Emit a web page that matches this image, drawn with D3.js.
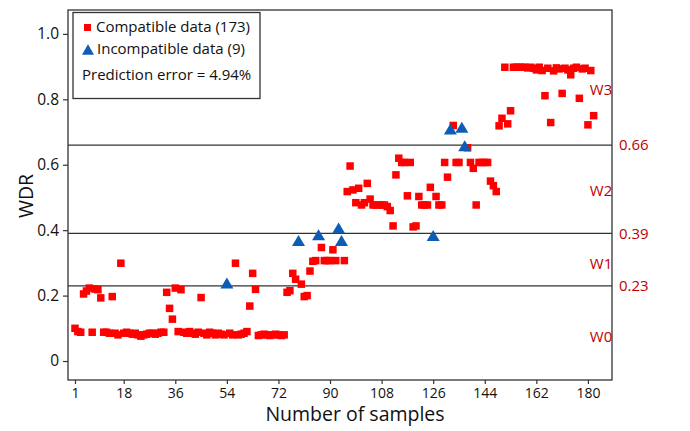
<!DOCTYPE html>
<html>
<head>
<meta charset="utf-8">
<script src="https://cdn.jsdelivr.net/npm/d3@7"></script>
<style>
  html, body { margin: 0; padding: 0; background: #fff; }
  svg { display: block; }
  text { font-family: "Open Sans", "Noto Sans", sans-serif; fill: #111; }
</style>
</head>
<body>
<svg id="chart" width="690" height="431"></svg>
<script>
// WDR value of each sample, in sample order (sample 1 first)
const wdrValues = [
  0.100, 0.090, 0.088, 0.205, 0.214, 0.223, 0.088, 0.220, 0.218, 0.193,
  0.088, 0.088, 0.085, 0.197, 0.085, 0.080, 0.299, 0.085, 0.088, 0.085,
  0.082, 0.085, 0.080, 0.076, 0.080, 0.082, 0.085, 0.085, 0.082, 0.085,
  0.088, 0.088, 0.210, 0.161, 0.128, 0.223, 0.090, 0.218, 0.088, 0.085,
  0.090, 0.085, 0.082, 0.088, 0.194, 0.085, 0.080, 0.088, 0.085, 0.080,
  0.085, 0.082, 0.080, 0.235, 0.085, 0.080, 0.299, 0.080, 0.082, 0.085,
  0.090, 0.168, 0.268, 0.219, 0.078, 0.080, 0.082, 0.080, 0.078, 0.080,
  0.082, 0.080, 0.078, 0.080, 0.210, 0.215, 0.268, 0.250, 0.365, 0.235,
  0.197, 0.200, 0.275, 0.305, 0.307, 0.383, 0.347, 0.307, 0.307, 0.307,
  0.340, 0.307, 0.403, 0.365, 0.307, 0.518, 0.596, 0.523, 0.484, 0.528,
  0.477, 0.484, 0.543, 0.495, 0.477, 0.477, 0.477, 0.477, 0.477, 0.472,
  0.460, 0.413, 0.569, 0.620, 0.607, 0.607, 0.505, 0.607, 0.410, 0.413,
  0.503, 0.477, 0.477, 0.477, 0.531, 0.380, 0.503, 0.477, 0.477, 0.607,
  0.562, 0.706, 0.720, 0.607, 0.607, 0.711, 0.655, 0.652, 0.607, 0.589,
  0.477, 0.607, 0.607, 0.607, 0.607, 0.550, 0.536, 0.518, 0.719, 0.742,
  0.898, 0.725, 0.765, 0.898, 0.898, 0.898, 0.898, 0.898, 0.896, 0.898,
  0.895, 0.890, 0.898, 0.888, 0.811, 0.895, 0.729, 0.887, 0.896, 0.893,
  0.818, 0.895, 0.890, 0.875, 0.895, 0.898, 0.803, 0.893, 0.895, 0.722,
  0.888, 0.750
];

// samples whose predicted class disagrees with the measured one
const incompatibleSamples = [54, 79, 86, 93, 94, 126, 132, 136, 137];

// class thresholds and class names
const thresholds = [0.23, 0.39, 0.66];
const thresholdLabels = ["0.23", "0.39", "0.66"];
const classNames = ["W0", "W1", "W2", "W3"];
const classLabelValues = [0.075, 0.298, 0.52, 0.83];

const xTicks = [1, 18, 36, 54, 72, 90, 108, 126, 144, 162, 180];
const yTicks = [0, 0.2, 0.4, 0.6, 0.8, 1.0];

const legendItems = ["Compatible data (173)", "Incompatible data (9)"];
const errorText = "Prediction error = 4.94%";

const svg = d3.select("#chart");
const plot = { left: 68, right: 612, top: 10, bottom: 380 };

const x = d3.scaleLinear().domain([-1.44, 188.4]).range([plot.left, plot.right]);
const y = d3.scaleLinear().domain([-0.058, 1.073]).range([plot.bottom, plot.top]);

const RED = "#ff0000";
const BLUE = "#0d5cb6";
const DARKRED = "#c00000";
const FRAME = "#333";

const points = wdrValues.map((v, i) => ({
  sample: i + 1,
  value: v,
  incompatible: incompatibleSamples.includes(i + 1)
}));

// threshold lines
svg.append("g").selectAll("line").data(thresholds).join("line")
  .attr("x1", plot.left).attr("x2", plot.right)
  .attr("y1", d => y(d)).attr("y2", d => y(d))
  .attr("stroke", FRAME).attr("stroke-width", 1.3);

// threshold labels on the right
svg.append("g").selectAll("text").data(thresholds).join("text")
  .attr("x", plot.right + 7).attr("y", d => y(d))
  .attr("dy", "0.35em")
  .attr("font-size", 15).style("fill", DARKRED)
  .text((d, i) => thresholdLabels[i]);

// class names inside the plot
svg.append("g").selectAll("text").data(classNames).join("text")
  .attr("x", 601).attr("y", (d, i) => y(classLabelValues[i]))
  .attr("dy", "0.35em").attr("text-anchor", "middle")
  .attr("font-size", 15).style("fill", DARKRED)
  .text(d => d);

// axes
const yAxis = d3.axisLeft(y).tickValues(yTicks).tickSize(5).tickPadding(4)
  .tickFormat(d => d === 0 ? "0" : d3.format(".1f")(d));
const gy = svg.append("g").attr("transform", `translate(${plot.left},0)`).call(yAxis);
gy.select(".domain").remove();
gy.selectAll("line").attr("stroke", FRAME).attr("stroke-width", 1.2);
gy.selectAll("text").attr("font-size", 15.5)
  .style("font-family", "'Open Sans', sans-serif");

const xAxis = d3.axisBottom(x).tickValues(xTicks).tickSize(4).tickPadding(4);
const gx = svg.append("g").attr("transform", `translate(0,${plot.bottom})`).call(xAxis);
gx.select(".domain").remove();
gx.selectAll("line").attr("stroke", FRAME).attr("stroke-width", 1.2);
gx.selectAll("text").attr("font-size", 14)
  .style("font-family", "'Open Sans', sans-serif");

// frame
svg.append("rect")
  .attr("x", plot.left).attr("y", plot.top)
  .attr("width", plot.right - plot.left).attr("height", plot.bottom - plot.top)
  .attr("fill", "none").attr("stroke", FRAME).attr("stroke-width", 1.3);

// axis titles
svg.append("text").attr("x", (plot.left + plot.right) / 2 + 15).attr("y", 421)
  .attr("text-anchor", "middle").attr("font-size", 19.5).text("Number of samples");
svg.append("text").attr("transform", `translate(33,${196}) rotate(-90)`)
  .attr("text-anchor", "middle").attr("font-size", 19.5).text("WDR");

// markers
const sq = 7.5;
svg.append("g").selectAll("rect").data(points.filter(d => !d.incompatible)).join("rect")
  .attr("x", d => x(d.sample) - sq / 2).attr("y", d => y(d.value) - sq / 2)
  .attr("width", sq).attr("height", sq).attr("fill", RED);

const tri = (cx, cy, w, h) =>
  `M${cx},${cy - h * 0.6}L${cx + w / 2},${cy + h * 0.4}L${cx - w / 2},${cy + h * 0.4}Z`;
svg.append("g").selectAll("path").data(points.filter(d => d.incompatible)).join("path")
  .attr("d", d => tri(x(d.sample), y(d.value), 13, 11)).attr("fill", BLUE);

// legend
const lg = svg.append("g");
lg.append("rect").attr("x", 73).attr("y", 12.5).attr("width", 187).attr("height", 86)
  .attr("fill", "#fff").attr("stroke", FRAME).attr("stroke-width", 1.3);
lg.append("rect").attr("x", 84).attr("y", 24).attr("width", 7).attr("height", 7).attr("fill", RED);
lg.append("path").attr("d", tri(88, 50.5, 12, 10.5)).attr("fill", BLUE);
lg.append("text").attr("x", 96).attr("y", 32).attr("font-size", 15).text(legendItems[0]);
lg.append("text").attr("x", 97).attr("y", 54).attr("font-size", 15).text(legendItems[1]);
lg.append("text").attr("x", 82).attr("y", 80).attr("font-size", 15).text(errorText);
</script>
</body>
</html>
